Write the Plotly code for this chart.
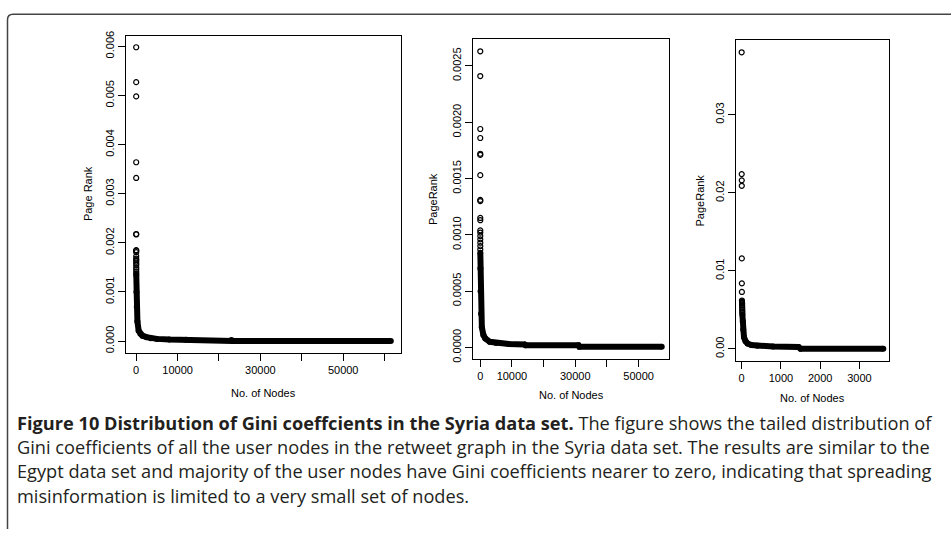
import plotly.graph_objects as go

W, H = 951, 533

# ---------------- data ----------------
# Panel 1 (Page Rank, ~61500 nodes)
p1_head_rank = [1, 2, 3, 4, 5, 6, 7, 8, 9, 10, 11, 12, 13, 14, 15, 16, 17, 18, 19, 20]
p1_head_pr = [0.00598, 0.00527, 0.00498, 0.00364, 0.00332, 0.00218, 0.00217, 0.00185,
              0.00184, 0.00181, 0.00173, 0.00168, 0.00165, 0.00162, 0.00158, 0.00155,
              0.00150, 0.00146, 0.00142, 0.00138]
p1_tail_rank = [21, 60, 150, 300, 600, 1000, 1500, 2500, 3500, 5000, 8000, 12000,
                23000, 23300, 61500]
p1_tail_pr = [0.00135, 0.00100, 0.00070, 0.00040, 0.00021, 0.00015, 0.00011, 0.00008,
              0.00006, 0.000045, 0.000030, 0.000025, 0.000020, 0.000004, 0.000003]
p1_xticks = [0, 10000, 20000, 30000, 40000, 50000, 60000]
p1_xlabels = ["0", "10000", "", "30000", "", "50000", ""]
p1_yticks = [0.000, 0.001, 0.002, 0.003, 0.004, 0.005, 0.006]

# Panel 2 (PageRank, ~57300 nodes)
p2_head_rank = [1, 2, 3, 4, 5, 6, 7, 8, 9, 10, 11, 12, 13, 14, 15, 16, 17, 18]
p2_head_pr = [0.00263, 0.00241, 0.00194, 0.00186, 0.00172, 0.00171, 0.00153, 0.00131,
              0.00130, 0.00115, 0.00113, 0.00104, 0.00102, 0.00099, 0.00096, 0.00093,
              0.00090, 0.00087]
p2_tail_rank = [19, 40, 100, 250, 500, 1000, 1600, 3000, 5000, 9000, 14000, 14300,
                31000, 31300, 57300]
p2_tail_pr = [0.00084, 0.00070, 0.00050, 0.00030, 0.00018, 0.00011, 0.00008, 0.00005,
              0.00004, 0.00003, 0.000027, 0.000020, 0.000020, 0.000006, 0.000006]
p2_xticks = [0, 10000, 20000, 30000, 40000, 50000]
p2_xlabels = ["0", "10000", "", "30000", "", "50000"]
p2_yticks = [0.0000, 0.0005, 0.0010, 0.0015, 0.0020, 0.0025]

# Panel 3 (PageRank, ~3610 nodes)
p3_head_rank = [1, 2, 3, 4, 5, 6, 7, 8, 9, 10, 11, 12, 13, 14, 15, 16, 17, 18]
p3_head_pr = [0.0380, 0.0224, 0.0216, 0.0209, 0.0116, 0.0084, 0.0073, 0.0062, 0.0061,
              0.0060, 0.0059, 0.0058, 0.0056, 0.0054, 0.0052, 0.0050, 0.0048, 0.0046]
p3_tail_rank = [19, 30, 40, 60, 100, 150, 250, 400, 800, 1450, 1500, 3610]
p3_tail_pr = [0.0044, 0.0035, 0.0025, 0.0015, 0.0010, 0.0007, 0.0005, 0.0004, 0.0003,
              0.00025, 0.00004, 0.00003]
p3_xticks = [0, 1000, 2000, 3000]
p3_xlabels = ["0", "1000", "2000", "3000"]
p3_yticks = [0.00, 0.01, 0.02, 0.03]

caption_lines = [
    "<b>Figure 10 Distribution of Gini coeffcients in the Syria data set.</b> The figure shows the tailed distribution of",
    "Gini coefficients of all the user nodes in the retweet graph in the Syria data set. The results are similar to the",
    "Egypt data set and majority of the user nodes have Gini coefficients nearer to zero, indicating that spreading",
    "misinformation is limited to a very small set of nodes.",
]

# ---------------- layout helpers ----------------
def px_x(x):
    return x / W

def px_y(y):
    return 1 - y / H

def r_range(vals):
    lo, hi = min(vals), max(vals)
    span = hi - lo
    return [lo - 0.04 * span, hi + 0.04 * span]

panels = [
    dict(hr=p1_head_rank, hp=p1_head_pr, tr=p1_tail_rank, tp=p1_tail_pr,
         xt=p1_xticks, xl=p1_xlabels, yt=p1_yticks, yf="%.3f",
         box=(126, 401, 32, 354), ytitle="Page Rank", ytx=88, xty=395),
    dict(hr=p2_head_rank, hp=p2_head_pr, tr=p2_tail_rank, tp=p2_tail_pr,
         xt=p2_xticks, xl=p2_xlabels, yt=p2_yticks, yf="%.4f",
         box=(473, 669, 36, 360), ytitle="PageRank", ytx=433, xty=397),
    dict(hr=p3_head_rank, hp=p3_head_pr, tr=p3_tail_rank, tp=p3_tail_pr,
         xt=p3_xticks, xl=p3_xlabels, yt=p3_yticks, yf="%.2f",
         box=(736, 889, 37, 362), ytitle="PageRank", ytx=700, xty=400),
]

fig = go.Figure()
tick_font = dict(family="Liberation Sans, Arial, sans-serif", size=11, color="black")
annotations = []

for i, p in enumerate(panels, start=1):
    xa = "x" if i == 1 else f"x{i}"
    ya = "y" if i == 1 else f"y{i}"
    # dense tail drawn as thick band
    fig.add_trace(go.Scatter(
        x=p["tr"], y=p["tp"], mode="lines+markers", xaxis=xa, yaxis=ya,
        line=dict(color="black", width=6),
        marker=dict(symbol="circle", size=6, color="black"),
        showlegend=False, hoverinfo="skip"))
    # individual top points
    fig.add_trace(go.Scatter(
        x=p["hr"], y=p["hp"], mode="markers", xaxis=xa, yaxis=ya,
        marker=dict(symbol="circle-open", size=5, color="black", line=dict(width=1.2)),
        showlegend=False))
    x0, x1, y0, y1 = p["box"]
    allx = p["hr"] + p["tr"]
    ally = p["hp"] + p["tp"]
    xkey = "xaxis" if i == 1 else f"xaxis{i}"
    ykey = "yaxis" if i == 1 else f"yaxis{i}"
    fig.update_layout(**{
        xkey: dict(domain=[px_x(x0), px_x(x1)], anchor=ya, range=r_range(allx),
                   tickmode="array", tickvals=p["xt"], ticktext=p["xl"],
                   showline=True, mirror=True, linecolor="black", linewidth=1,
                   ticks="outside", ticklen=7, tickwidth=1, tickcolor="black",
                   showgrid=False, zeroline=False, tickfont=tick_font),
        ykey: dict(domain=[px_y(y1), px_y(y0)], anchor=xa, range=r_range(ally),
                   tickmode="array", tickvals=p["yt"],
                   ticktext=[p["yf"] % v for v in p["yt"]],
                   tickangle=-90,
                   showline=True, mirror=True, linecolor="black", linewidth=1,
                   ticks="outside", ticklen=7, tickwidth=1, tickcolor="black",
                   showgrid=False, zeroline=False, tickfont=tick_font),
    })
    annotations.append(dict(
        text="No. of Nodes", x=px_x((x0 + x1) / 2), y=px_y(p["xty"]),
        xref="paper", yref="paper", showarrow=False, xanchor="center", yanchor="middle",
        font=tick_font))
    annotations.append(dict(
        text=p["ytitle"], x=px_x(p["ytx"]), y=px_y((y0 + y1) / 2), textangle=-90,
        xref="paper", yref="paper", showarrow=False, xanchor="center", yanchor="middle",
        font=tick_font))

cap_y = [425, 450, 474, 499]
for line, yy in zip(caption_lines, cap_y):
    annotations.append(dict(
        text=line, x=px_x(15), y=px_y(yy), xref="paper", yref="paper",
        showarrow=False, xanchor="left", yanchor="middle",
        font=dict(family="Open Sans, sans-serif", size=18.2, color="#231f20")))

frame_path = (f"M 1,{px_y(10.5)} L {px_x(13)},{px_y(10.5)} "
              f"Q {px_x(7.5)},{px_y(10.5)} {px_x(7.5)},{px_y(16)} L {px_x(7.5)},0")

fig.update_layout(
    width=W, height=H,
    margin=dict(l=0, r=0, t=0, b=0),
    paper_bgcolor="white", plot_bgcolor="white",
    annotations=annotations,
    shapes=[dict(type="path", path=frame_path, xref="paper", yref="paper",
                 line=dict(color="#444444", width=1.5))],
)

fig.write_html("out.html")
